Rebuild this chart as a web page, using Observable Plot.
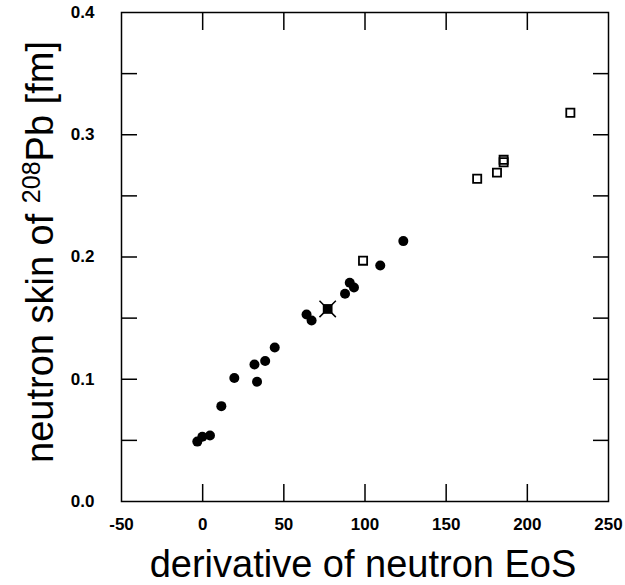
<!DOCTYPE html>
<html>
<head>
<meta charset="utf-8">
<script src="https://cdn.jsdelivr.net/npm/d3@7"></script>
<script src="https://cdn.jsdelivr.net/npm/@observablehq/plot@0.6"></script>
<style>
  html, body { margin: 0; padding: 0; background: #fff; }
  #chart { width: 625px; height: 585px; }
  svg { font-family: "Liberation Sans", Arial, Helvetica, sans-serif; }
</style>
</head>
<body>
<div id="chart"></div>
<script>
// Filled circles (models)
const circleX = [-3.3, -0.2, 4.5, 11.5, 19.5, 31.9, 33.5, 38.5, 44.4, 64.0, 67.1, 87.7, 90.6, 93.2, 109.4, 123.6];
const circleY = [0.049, 0.053, 0.054, 0.078, 0.101, 0.112, 0.098, 0.115, 0.126, 0.153, 0.148, 0.170, 0.179, 0.175, 0.193, 0.213];
// Open squares (models)
const squareX = [98.8, 169.1, 181.3, 185.4, 185.4, 226.5];
const squareY = [0.197, 0.264, 0.269, 0.2795, 0.2775, 0.318];
// Highlighted point (cross)
const starX = [77.0];
const starY = [0.1575];

const xTicks = [-50, 0, 50, 100, 150, 200, 250];
const xInnerTicks = [0, 50, 100, 150, 200];
const yLabelTicks = [0.0, 0.1, 0.2, 0.3, 0.4];
const yInnerTicks = [0.05, 0.1, 0.15, 0.2, 0.25, 0.3, 0.35];

const xTitle = "derivative of neutron EoS";
const yTitleA = "neutron skin of ";
const yTitleSup = "208";
const yTitleB = "Pb [fm]";

const circles = circleX.map((x, i) => ({x, y: circleY[i]}));
const squares = squareX.map((x, i) => ({x, y: squareY[i]}));
const stars = starX.map((x, i) => ({x, y: starY[i]}));

const W = 625, H = 585;
const tickFont = {fontSize: 17, fontWeight: "bold"};

const plot = Plot.plot({
  width: W,
  height: H,
  marginLeft: 121,
  marginRight: 17,
  marginTop: 12,
  marginBottom: 84,
  style: {fontFamily: "'Liberation Sans', Arial, Helvetica, sans-serif", background: "#fff", color: "#000"},
  x: {domain: [-50, 250]},
  y: {domain: [0, 0.4]},
  marks: [
    // tick labels
    Plot.axisX(xTicks, {anchor: "bottom", tickSize: 0, tickPadding: 16, tickFormat: d => String(d), label: null, ...tickFont}),
    Plot.axisY(yLabelTicks, {anchor: "left", tickSize: 0, tickPadding: 27, tickFormat: d3.format(".1f"), label: null, ...tickFont}),
    // inward ticks on all four sides
    Plot.axisX(xInnerTicks, {anchor: "bottom", tickSize: -17, tickFormat: () => "", label: null, strokeWidth: 1.5}),
    Plot.axisX(xInnerTicks, {anchor: "top", tickSize: -17, tickFormat: () => "", label: null, strokeWidth: 1.5}),
    Plot.axisY(yInnerTicks, {anchor: "left", tickSize: -16, tickFormat: () => "", label: null, strokeWidth: 1.5}),
    Plot.axisY(yInnerTicks, {anchor: "right", tickSize: -16, tickFormat: () => "", label: null, strokeWidth: 1.5}),
    Plot.frame({stroke: "#000", strokeWidth: 1.5}),
    // data
    Plot.dot(circles, {x: "x", y: "y", r: 5, fill: "#000", stroke: "none"}),
    Plot.dot(squares, {x: "x", y: "y", r: 4.6, symbol: "square", fill: "none", stroke: "#000", strokeWidth: 1.8}),
    Plot.dot(stars, {x: "x", y: "y", r: 5.5, symbol: "square", fill: "#000", stroke: "none"}),
    Plot.dot(stars, {x: "x", y: "y", r: 7.5, symbol: "times", stroke: "#000", strokeWidth: 1.5})
  ]
});

document.getElementById("chart").appendChild(plot);

// axis titles
const svg = d3.select(plot);
svg.append("text")
  .attr("x", 363).attr("y", 577)
  .attr("text-anchor", "middle")
  .attr("font-size", 38)
  .attr("fill", "#000")
  .text(xTitle);

const yt = svg.append("text")
  .attr("transform", "translate(53,252) rotate(-90)")
  .attr("text-anchor", "middle")
  .attr("font-size", 38)
  .attr("fill", "#000");
yt.append("tspan").text(yTitleA);
yt.append("tspan").attr("dy", -13).attr("font-size", 25).text(yTitleSup);
yt.append("tspan").attr("dy", 13).text(yTitleB);
</script>
</body>
</html>
